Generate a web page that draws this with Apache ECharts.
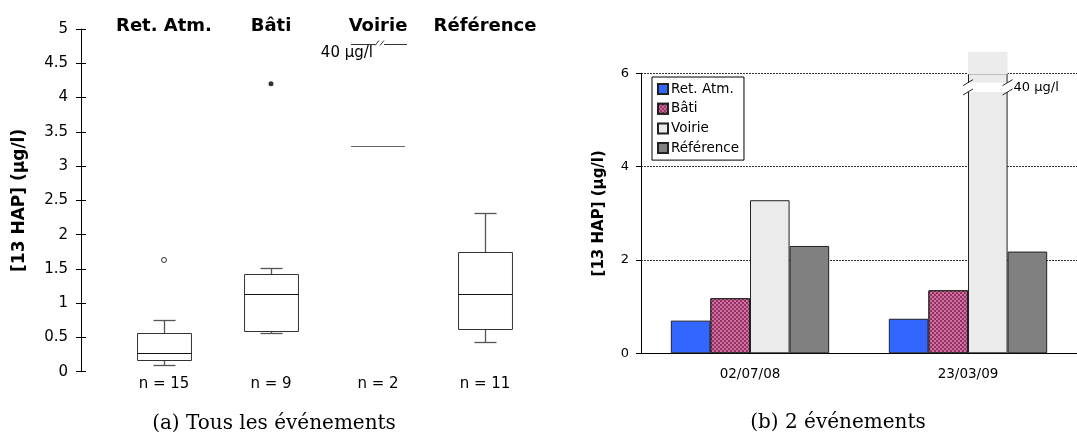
<!DOCTYPE html>
<html lang="fr">
<head>
<meta charset="UTF-8">
<title>[13 HAP]</title>
<style>
  html, body { margin: 0; padding: 0; background: #fff; }
  #chart { width: 1077px; height: 437px; }
</style>
</head>
<body>
<div id="chart"></div>
<script src="https://cdn.jsdelivr.net/npm/echarts@6/dist/echarts.min.js"></script>
<script>
// (a) Tous les événements
var sites = ['Ret. Atm.', 'Bâti', 'Voirie', 'Référence'];
var counts = ['n = 15', 'n = 9', 'n = 2', 'n = 11'];
var boxSites = [0, 1, 3];
var boxLow = [0.10, 0.57, 0.43];
var boxQ1 = [0.165, 0.59, 0.63];
var boxMedian = [0.27, 1.13, 1.13];
var boxQ3 = [0.56, 1.43, 1.74];
var boxHigh = [0.76, 1.51, 2.31];
var outlierSites = [0, 1];
var outlierValues = [1.63, 4.2];
var voirieSite = 2;
var voirieEvents = [3.3, 40];

// (b) 2 événements
var events = ['02/07/08', '23/03/09'];
var retAtm = [0.70, 0.74];
var bati = [1.18, 1.35];
var voirie = [3.28, 40];
var reference = [2.30, 2.18];

var FONT = 'DejaVu Sans';
var leftBreakAt = 4.78;   // where the off-scale 40 µg/l is drawn on (a)
var rightMax = 6;
var barFrac = 0.1816;     // bar width / category band

var boxData = boxSites.map(function (s, k) {
    return [s, boxLow[k], boxQ1[k], boxMedian[k], boxQ3[k], boxHigh[k]];
});

function renderBox(params, api) {
    var i = api.value(0);
    var band = api.size([1, 0])[0];
    var half = band * 0.252, cap = band * 0.103;
    var xc = Math.round(api.coord([i, 0])[0]) + 0.5;
    var y = [1, 2, 3, 4, 5].map(function (d) {
        return Math.round(api.coord([i, api.value(d)])[1]) + 0.5;
    });
    var box = { stroke: '#333', lineWidth: 1, fill: 'none' };
    var whisk = { stroke: '#555', lineWidth: 1.3 };
    return {
        type: 'group',
        children: [
            { type: 'line', shape: { x1: xc, y1: y[0], x2: xc, y2: y[1] }, style: whisk },
            { type: 'line', shape: { x1: xc, y1: y[3], x2: xc, y2: y[4] }, style: whisk },
            { type: 'line', shape: { x1: xc - cap, y1: y[0], x2: xc + cap, y2: y[0] }, style: whisk },
            { type: 'line', shape: { x1: xc - cap, y1: y[4], x2: xc + cap, y2: y[4] }, style: whisk },
            { type: 'rect', shape: { x: xc - half, y: y[3], width: 2 * half, height: y[1] - y[3] }, style: box },
            { type: 'line', shape: { x1: xc - half, y1: y[2], x2: xc + half, y2: y[2] }, style: { stroke: '#111', lineWidth: 1.2 } }
        ]
    };
}

function renderVoirie(params, api) {
    var i = api.value(0);
    var band = api.size([1, 0])[0];
    var half = band * 0.252;
    var xc = api.coord([i, 0])[0];
    var yLow = Math.round(api.coord([i, api.value(1)])[1]) + 0.5;
    var yTop = Math.round(api.coord([i, leftBreakAt])[1]) + 0.5;
    var ln = { stroke: '#333', lineWidth: 1 };
    return {
        type: 'group',
        children: [
            { type: 'line', shape: { x1: xc - half, y1: yLow, x2: xc + half, y2: yLow }, style: { stroke: '#666', lineWidth: 1 } },
            { type: 'line', shape: { x1: xc - half, y1: yTop, x2: xc - 3, y2: yTop }, style: ln },
            { type: 'line', shape: { x1: xc - 3, y1: yTop + 1, x2: xc + 1, y2: yTop - 4 }, style: ln },
            { type: 'line', shape: { x1: xc + 2, y1: yTop + 1, x2: xc + 6, y2: yTop - 4 }, style: ln },
            { type: 'line', shape: { x1: xc + 6, y1: yTop, x2: xc + half + 2, y2: yTop }, style: ln },
            { type: 'text', x: xc - 5, y: yTop + 9, style: {
                text: api.value(2) + ' µg/l', align: 'right', verticalAlign: 'middle',
                font: '15px "DejaVu Sans"', fill: '#000' } }
        ]
    };
}

function renderBreak(params, api) {
    var i = api.value(0);
    var band = api.size([1, 0])[0];
    var bw = band * barFrac;
    var x0 = api.coord([i, 0])[0];
    var x1 = x0 + bw;
    var yTop = api.coord([i, 6.46])[1];
    var yMax = api.coord([i, rightMax])[1];
    var gHi = api.coord([i, 5.8])[1];
    var gLo = api.coord([i, 5.6])[1];
    var ln = { stroke: '#222', lineWidth: 1 };
    var kids = [
        { type: 'rect', shape: { x: x0, y: yTop, width: bw, height: yMax - yTop + 1 }, style: { fill: '#ececec' } },
        { type: 'rect', shape: { x: x0 - 1, y: gHi, width: bw + 2, height: gLo - gHi }, style: { fill: '#fff' } }
    ];
    [x0, x1].forEach(function (xe) {
        kids.push({ type: 'line', shape: { x1: xe - 5, y1: gHi + 3, x2: xe + 5, y2: gHi - 3 }, style: ln });
        kids.push({ type: 'line', shape: { x1: xe - 5, y1: gLo + 3, x2: xe + 5, y2: gLo - 3 }, style: ln });
    });
    kids.push({ type: 'text', x: x1 + 6, y: (gHi + gLo) / 2, style: {
        text: api.value(1) + ' µg/l', align: 'left', verticalAlign: 'middle',
        font: '13px "DejaVu Sans"', fill: '#000' } });
    return { type: 'group', children: kids };
}

var breakData = [];
voirie.forEach(function (v, i) { if (v > rightMax) breakData.push([i, v]); });

var barBase = {
    type: 'bar', xAxisIndex: 2, yAxisIndex: 2,
    barWidth: (barFrac * 100) + '%', barGap: '0%',
    emphasis: { disabled: true }
};

var myChart = echarts.init(document.getElementById('chart'));
var option = {
    animation: false,
    backgroundColor: '#fff',
    textStyle: { fontFamily: FONT, color: '#000' },
    grid: [
        { left: 110.5, top: 29, width: 428, height: 342.7 },
        { left: 641, top: 73.3, width: 445, height: 280 }
    ],
    legend: {
        orient: 'vertical', left: 652, top: 77,
        padding: [5, 5, 5, 5], itemGap: 5.7,
        itemWidth: 10, itemHeight: 10, icon: 'rect',
        borderColor: '#000', borderWidth: 1, backgroundColor: '#fff',
        textStyle: { fontFamily: FONT, fontSize: 13.5, color: '#000', padding: [0, 0, 0, -2] },
        data: sites
    },
    xAxis: [
        { type: 'category', gridIndex: 0, data: counts,
          axisLine: { show: false }, axisTick: { show: false },
          axisLabel: { interval: 0, margin: 5, fontSize: 15, color: '#000', fontFamily: FONT } },
        { type: 'category', gridIndex: 0, data: sites, position: 'top',
          axisLine: { show: false }, axisTick: { show: false },
          axisLabel: { interval: 0, margin: -6, fontSize: 18, fontWeight: 'bold', color: '#000', fontFamily: FONT } },
        { type: 'category', gridIndex: 1, data: events,
          axisLine: { lineStyle: { color: '#000', width: 1 } },
          axisTick: { length: 5, lineStyle: { color: '#000' } },
          axisLabel: { interval: 0, margin: 14, fontSize: 13.5, color: '#000', fontFamily: FONT } }
    ],
    yAxis: [
        { type: 'value', gridIndex: 0, position: 'left', min: 0, max: 5, interval: 0.5, offset: 29.5,
          name: '[13 HAP] (µg/l)', nameLocation: 'middle', nameGap: 53,
          nameTextStyle: { fontSize: 17, fontWeight: 'bold', color: '#000', fontFamily: FONT },
          axisLine: { show: true, lineStyle: { color: '#000' } },
          axisTick: { show: true, length: 5, lineStyle: { color: '#000' } },
          axisLabel: { margin: 13, fontSize: 15, color: '#000', fontFamily: FONT },
          splitLine: { show: false } },
        { type: 'value', gridIndex: 0, position: 'left', min: 0, max: 5, interval: 0.5, offset: 29.5,
          axisLine: { show: false },
          axisTick: { show: true, inside: true, length: 5, lineStyle: { color: '#000' } },
          axisLabel: { show: false }, splitLine: { show: false } },
        { type: 'value', gridIndex: 1, position: 'left', min: 0, max: rightMax, interval: 2,
          name: '[13 HAP] (µg/l)', nameLocation: 'middle', nameGap: 34,
          nameTextStyle: { fontSize: 15, fontWeight: 'bold', color: '#000', fontFamily: FONT },
          axisLine: { show: true, lineStyle: { color: '#000' } },
          axisTick: { show: true, length: 5, lineStyle: { color: '#000' } },
          axisLabel: { margin: 12, fontSize: 13, color: '#000', fontFamily: FONT },
          splitLine: { show: true, lineStyle: { color: '#333', type: [2, 1], width: 1 } } }
    ],
    series: [
        { type: 'custom', xAxisIndex: 0, yAxisIndex: 0, renderItem: renderBox,
          encode: { x: 0, y: [1, 2, 3, 4, 5] }, data: boxData, silent: true },
        { type: 'custom', xAxisIndex: 0, yAxisIndex: 0, renderItem: renderVoirie, clip: false,
          encode: { x: 0, y: 1 }, data: [[voirieSite, voirieEvents[0], voirieEvents[1]]], silent: true },
        { type: 'scatter', xAxisIndex: 0, yAxisIndex: 0, symbol: 'circle', symbolSize: 5,
          data: outlierSites.map(function (s, k) {
              return { value: [s, outlierValues[k]],
                       itemStyle: k === 0 ? { color: '#fff', borderColor: '#000', borderWidth: 1 } : { color: '#000' } };
          }) },
        Object.assign({}, barBase, { name: sites[0], data: retAtm,
          itemStyle: { color: '#3366ff', borderColor: '#222', borderWidth: 1 } }),
        Object.assign({}, barBase, { name: sites[1], data: bati,
          itemStyle: { color: '#953062', borderColor: '#222', borderWidth: 1,
            decal: { symbol: 'rect', symbolSize: 1, dashArrayX: [[2, 2], [0, 2, 2, 0]], dashArrayY: [2, 0],
                     color: 'rgba(255,170,215,0.55)' } } }),
        Object.assign({}, barBase, { name: sites[2],
          data: voirie.map(function (v) { return Math.min(v, rightMax); }),
          itemStyle: { color: '#ebebeb', borderColor: '#222', borderWidth: 1 } }),
        Object.assign({}, barBase, { name: sites[3], data: reference,
          itemStyle: { color: '#808080', borderColor: '#222', borderWidth: 1 } }),
        { type: 'custom', xAxisIndex: 2, yAxisIndex: 2, renderItem: renderBreak, clip: false,
          encode: { x: 0, y: 1 }, data: breakData, silent: true, z: 3 }
    ],
    graphic: [
        { type: 'text', x: 274, y: 424, style: { text: '(a) Tous les événements', align: 'center',
          verticalAlign: 'middle', font: '20px "DejaVu Serif"', fill: '#000' } },
        { type: 'text', x: 838, y: 423, style: { text: '(b) 2 événements', align: 'center',
          verticalAlign: 'middle', font: '20px "DejaVu Serif"', fill: '#000' } }
    ]
};
myChart.setOption(option);
</script>
</body>
</html>
